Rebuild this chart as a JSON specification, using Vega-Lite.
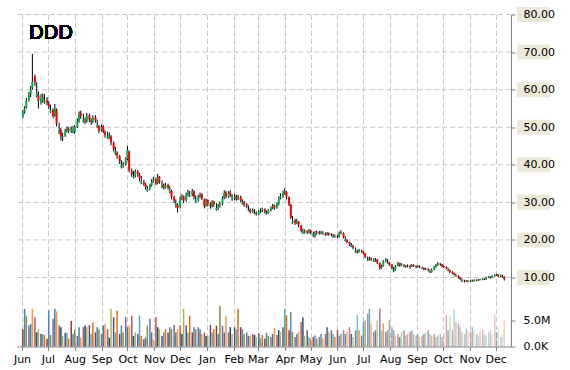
{
"$schema":"https://vega.github.io/schema/vega-lite/v6.json",
"padding":{"left":13,"top":6.5,"right":5,"bottom":5},
"background":"white",
"spacing":0,
"config":{"view":{"stroke":null},"font":"DejaVu Sans",
"axis":{"gridColor":"#c8c8c8","gridDash":[5,3],"gridWidth":1,"domainColor":"#808080","tickColor":"#808080","labelFont":"DejaVu Sans","labelFontSize":11,"labelColor":"#000000","tickSize":4,"title":null}},
"data":{"values":[
{"d":"2014-06-02","o":53.0,"h":54.6,"l":52.4,"c":54,"v":3.3},
{"d":"2014-06-04","o":54.2,"h":55.6,"l":53.6,"c":55,"v":7.2},
{"d":"2014-06-06","o":55.3,"h":57.8,"l":55.0,"c":57,"v":5.8},
{"d":"2014-06-09","o":57.3,"h":59.4,"l":56.8,"c":58.5,"v":4.0},
{"d":"2014-06-11","o":58.8,"h":61.0,"l":58.0,"c":60,"v":4.3},
{"d":"2014-06-13","o":60.5,"h":69.5,"l":60.0,"c":62,"v":7.2},
{"d":"2014-06-16","o":63.5,"h":64.0,"l":61.0,"c":62,"v":5.6},
{"d":"2014-06-18","o":58.3,"h":62.0,"l":58.0,"c":59,"v":2.7},
{"d":"2014-06-20","o":58.5,"h":59.5,"l":55.0,"c":57,"v":3.3},
{"d":"2014-06-23","o":56.8,"h":58.8,"l":56.0,"c":57.5,"v":2.4},
{"d":"2014-06-25","o":57.2,"h":59.0,"l":56.5,"c":58,"v":2.4},
{"d":"2014-06-27","o":56.5,"h":58.8,"l":56.2,"c":57,"v":2.2},
{"d":"2014-06-30","o":57.2,"h":58.0,"l":55.8,"c":56.5,"v":1.5},
{"d":"2014-07-02","o":56.3,"h":57.0,"l":54.8,"c":55.5,"v":6.9},
{"d":"2014-07-04","o":54.0,"h":56.0,"l":53.8,"c":54.5,"v":2.2},
{"d":"2014-07-07","o":54.6,"h":55.0,"l":52.4,"c":53,"v":5.3},
{"d":"2014-07-09","o":53.2,"h":56.2,"l":52.8,"c":55,"v":7.2},
{"d":"2014-07-11","o":54.6,"h":55.0,"l":50.2,"c":51,"v":6.7},
{"d":"2014-07-14","o":48.5,"h":51.2,"l":48.2,"c":49,"v":4.0},
{"d":"2014-07-16","o":49.2,"h":49.8,"l":46.5,"c":47.5,"v":3.7},
{"d":"2014-07-18","o":47.2,"h":48.5,"l":46.3,"c":47.5,"v":2.0},
{"d":"2014-07-21","o":47.8,"h":49.6,"l":47.4,"c":49,"v":2.6},
{"d":"2014-07-23","o":49.2,"h":50.2,"l":48.6,"c":49.5,"v":2.7},
{"d":"2014-07-25","o":49.6,"h":50.0,"l":48.4,"c":49.2,"v":1.5},
{"d":"2014-07-28","o":49.0,"h":50.2,"l":48.5,"c":49.5,"v":4.9},
{"d":"2014-07-30","o":48.6,"h":50.3,"l":48.4,"c":49,"v":2.4},
{"d":"2014-08-01","o":48.8,"h":50.6,"l":48.2,"c":50,"v":3.3},
{"d":"2014-08-04","o":50.2,"h":52.4,"l":49.8,"c":51.5,"v":2.0},
{"d":"2014-08-06","o":51.6,"h":54.2,"l":51.2,"c":53.5,"v":3.7},
{"d":"2014-08-08","o":53.8,"h":54.4,"l":52.2,"c":53,"v":1.7},
{"d":"2014-08-11","o":51.5,"h":53.6,"l":51.2,"c":52,"v":3.7},
{"d":"2014-08-13","o":51.8,"h":52.6,"l":50.8,"c":51.5,"v":4.0},
{"d":"2014-08-15","o":51.6,"h":53.8,"l":51.2,"c":53,"v":3.7},
{"d":"2014-08-18","o":53.2,"h":53.6,"l":51.4,"c":52,"v":4.1},
{"d":"2014-08-20","o":51.8,"h":52.4,"l":50.6,"c":51.5,"v":2.4},
{"d":"2014-08-22","o":51.4,"h":53.2,"l":51.0,"c":52.5,"v":4.6},
{"d":"2014-08-25","o":52.7,"h":53.2,"l":51.2,"c":51.8,"v":2.7},
{"d":"2014-08-27","o":50.0,"h":52.0,"l":49.8,"c":50.5,"v":3.7},
{"d":"2014-08-29","o":50.3,"h":50.6,"l":48.4,"c":49,"v":3.3},
{"d":"2014-09-01","o":49.2,"h":50.8,"l":48.8,"c":50,"v":2.4},
{"d":"2014-09-03","o":50.2,"h":50.6,"l":48.4,"c":49,"v":4.0},
{"d":"2014-09-05","o":48.8,"h":49.2,"l":47.2,"c":48,"v":4.3},
{"d":"2014-09-08","o":47.0,"h":48.8,"l":46.8,"c":47.5,"v":3.3},
{"d":"2014-09-10","o":47.3,"h":48.6,"l":46.9,"c":47.8,"v":1.7},
{"d":"2014-09-12","o":47.6,"h":47.9,"l":45.2,"c":46,"v":7.2},
{"d":"2014-09-15","o":45.8,"h":46.2,"l":43.6,"c":44.2,"v":5.6},
{"d":"2014-09-17","o":42.9,"h":44.8,"l":42.6,"c":43.5,"v":2.7},
{"d":"2014-09-19","o":43.2,"h":43.6,"l":41.6,"c":42.5,"v":6.9},
{"d":"2014-09-22","o":42.3,"h":42.6,"l":40.2,"c":41,"v":2.4},
{"d":"2014-09-24","o":39.4,"h":41.2,"l":39.0,"c":40,"v":4.0},
{"d":"2014-09-26","o":39.8,"h":40.8,"l":39.2,"c":40,"v":2.7},
{"d":"2014-09-29","o":40.2,"h":42.0,"l":39.8,"c":41.5,"v":5.6},
{"d":"2014-10-01","o":41.6,"h":45.0,"l":41.2,"c":44,"v":3.7},
{"d":"2014-10-03","o":43.5,"h":43.8,"l":38.0,"c":38.5,"v":4.0},
{"d":"2014-10-06","o":38.2,"h":39.0,"l":36.8,"c":37.5,"v":5.9},
{"d":"2014-10-08","o":36.6,"h":38.4,"l":36.4,"c":37,"v":2.0},
{"d":"2014-10-10","o":37.2,"h":38.8,"l":36.6,"c":38,"v":2.7},
{"d":"2014-10-13","o":38.2,"h":38.6,"l":36.8,"c":37.5,"v":2.4},
{"d":"2014-10-15","o":37.3,"h":37.8,"l":35.6,"c":36.5,"v":5.9},
{"d":"2014-10-17","o":35.0,"h":37.0,"l":34.8,"c":35.5,"v":2.0},
{"d":"2014-10-20","o":35.4,"h":36.0,"l":34.4,"c":35,"v":1.4},
{"d":"2014-10-22","o":34.8,"h":35.2,"l":33.4,"c":34,"v":1.7},
{"d":"2014-10-24","o":33.0,"h":34.4,"l":32.8,"c":33.5,"v":4.0},
{"d":"2014-10-27","o":33.6,"h":35.0,"l":33.2,"c":34.5,"v":5.3},
{"d":"2014-10-29","o":34.6,"h":36.2,"l":34.2,"c":35.5,"v":2.7},
{"d":"2014-10-31","o":35.6,"h":36.8,"l":35.2,"c":36,"v":1.4},
{"d":"2014-11-03","o":36.2,"h":36.6,"l":34.6,"c":35,"v":5.6},
{"d":"2014-11-05","o":35.2,"h":37.6,"l":34.8,"c":36.5,"v":3.7},
{"d":"2014-11-07","o":36.8,"h":37.0,"l":35.0,"c":35.5,"v":3.3},
{"d":"2014-11-10","o":34.0,"h":35.8,"l":33.8,"c":34.5,"v":2.0},
{"d":"2014-11-12","o":34.6,"h":35.0,"l":33.4,"c":34,"v":2.7},
{"d":"2014-11-14","o":33.8,"h":35.2,"l":33.6,"c":34.5,"v":3.3},
{"d":"2014-11-17","o":34.6,"h":35.0,"l":33.4,"c":34,"v":2.7},
{"d":"2014-11-19","o":32.6,"h":34.4,"l":32.4,"c":33,"v":3.7},
{"d":"2014-11-21","o":33.0,"h":33.4,"l":30.8,"c":31.5,"v":3.3},
{"d":"2014-11-24","o":31.3,"h":31.8,"l":29.8,"c":30.5,"v":4.1},
{"d":"2014-11-26","o":28.9,"h":30.8,"l":28.6,"c":29.5,"v":2.7},
{"d":"2014-11-28","o":29.3,"h":29.8,"l":27.3,"c":28.5,"v":3.3},
{"d":"2014-12-01","o":28.8,"h":31.6,"l":28.4,"c":31,"v":4.0},
{"d":"2014-12-03","o":31.2,"h":32.2,"l":30.6,"c":31.5,"v":2.4},
{"d":"2014-12-05","o":31.6,"h":31.8,"l":29.8,"c":30.5,"v":7.2},
{"d":"2014-12-08","o":30.6,"h":32.6,"l":30.2,"c":32,"v":4.0},
{"d":"2014-12-10","o":32.2,"h":33.4,"l":31.6,"c":32.5,"v":2.7},
{"d":"2014-12-12","o":31.6,"h":33.0,"l":31.4,"c":32,"v":5.9},
{"d":"2014-12-15","o":32.2,"h":33.6,"l":31.6,"c":33,"v":2.7},
{"d":"2014-12-17","o":33.0,"h":33.2,"l":30.8,"c":31.5,"v":3.7},
{"d":"2014-12-19","o":30.0,"h":31.8,"l":29.8,"c":30.5,"v":3.3},
{"d":"2014-12-22","o":30.6,"h":32.0,"l":30.2,"c":31.5,"v":3.7},
{"d":"2014-12-24","o":31.6,"h":32.6,"l":31.2,"c":32,"v":3.3},
{"d":"2014-12-26","o":32.2,"h":32.4,"l":30.6,"c":31,"v":2.4},
{"d":"2014-12-29","o":30.8,"h":31.0,"l":28.4,"c":29,"v":2.7},
{"d":"2014-12-31","o":29.2,"h":31.0,"l":28.8,"c":30.5,"v":2.0},
{"d":"2015-01-02","o":30.6,"h":30.8,"l":29.0,"c":29.5,"v":2.0},
{"d":"2015-01-05","o":29.4,"h":30.0,"l":28.3,"c":29,"v":4.1},
{"d":"2015-01-07","o":29.0,"h":30.6,"l":28.6,"c":30,"v":2.7},
{"d":"2015-01-09","o":30.2,"h":30.4,"l":28.8,"c":29.5,"v":3.3},
{"d":"2015-01-12","o":28.0,"h":29.8,"l":27.8,"c":28.5,"v":4.0},
{"d":"2015-01-14","o":28.6,"h":29.6,"l":28.0,"c":29,"v":2.4},
{"d":"2015-01-16","o":29.2,"h":30.2,"l":28.6,"c":29.5,"v":7.8},
{"d":"2015-01-19","o":29.6,"h":31.6,"l":29.2,"c":31,"v":4.0},
{"d":"2015-01-21","o":31.2,"h":33.2,"l":30.8,"c":32.5,"v":2.7},
{"d":"2015-01-23","o":32.6,"h":33.0,"l":31.0,"c":31.5,"v":5.9},
{"d":"2015-01-26","o":31.6,"h":33.0,"l":31.2,"c":32.5,"v":2.7},
{"d":"2015-01-28","o":32.6,"h":33.2,"l":31.4,"c":32,"v":3.7},
{"d":"2015-01-30","o":30.6,"h":32.2,"l":30.4,"c":31,"v":2.4},
{"d":"2015-02-02","o":31.2,"h":32.2,"l":30.6,"c":31.5,"v":3.7},
{"d":"2015-02-04","o":31.6,"h":32.0,"l":30.4,"c":31,"v":3.3},
{"d":"2015-02-06","o":31.0,"h":32.0,"l":30.6,"c":31.5,"v":7.2},
{"d":"2015-02-09","o":31.4,"h":31.8,"l":30.0,"c":30.5,"v":3.7},
{"d":"2015-02-11","o":29.6,"h":30.8,"l":29.4,"c":30,"v":3.3},
{"d":"2015-02-13","o":30.0,"h":30.4,"l":28.8,"c":29.5,"v":2.4},
{"d":"2015-02-16","o":29.4,"h":29.8,"l":28.4,"c":29,"v":2.7},
{"d":"2015-02-18","o":27.7,"h":29.2,"l":27.6,"c":28,"v":2.0},
{"d":"2015-02-20","o":28.0,"h":28.4,"l":27.0,"c":27.5,"v":2.0},
{"d":"2015-02-23","o":27.6,"h":28.4,"l":27.2,"c":27.8,"v":2.4},
{"d":"2015-02-25","o":26.9,"h":28.2,"l":26.8,"c":27.2,"v":2.2},
{"d":"2015-02-27","o":27.2,"h":27.6,"l":26.5,"c":27,"v":1.8},
{"d":"2015-03-02","o":27.0,"h":28.0,"l":26.6,"c":27.5,"v":2.5},
{"d":"2015-03-04","o":27.6,"h":28.4,"l":27.2,"c":27.8,"v":1.6},
{"d":"2015-03-06","o":27.8,"h":28.6,"l":27.4,"c":28,"v":2.2},
{"d":"2015-03-09","o":28.1,"h":28.4,"l":27.0,"c":27.5,"v":1.5},
{"d":"2015-03-11","o":26.9,"h":27.8,"l":26.7,"c":27.2,"v":2.6},
{"d":"2015-03-13","o":27.2,"h":28.2,"l":26.9,"c":27.8,"v":2.0},
{"d":"2015-03-16","o":27.9,"h":28.9,"l":27.6,"c":28.5,"v":1.8},
{"d":"2015-03-18","o":28.6,"h":29.6,"l":28.2,"c":29,"v":2.4},
{"d":"2015-03-20","o":29.2,"h":29.4,"l":28.0,"c":28.5,"v":3.6},
{"d":"2015-03-23","o":28.6,"h":30.0,"l":28.3,"c":29.5,"v":2.2},
{"d":"2015-03-25","o":29.6,"h":31.6,"l":29.2,"c":31,"v":3.1},
{"d":"2015-03-27","o":31.2,"h":32.4,"l":30.8,"c":31.5,"v":2.8},
{"d":"2015-03-30","o":31.6,"h":33.2,"l":31.2,"c":32.5,"v":3.7},
{"d":"2015-04-01","o":32.6,"h":33.8,"l":32.0,"c":33,"v":7.2},
{"d":"2015-04-03","o":32.8,"h":33.0,"l":30.8,"c":31.5,"v":6.0},
{"d":"2015-04-06","o":31.4,"h":31.6,"l":29.0,"c":29.5,"v":3.1},
{"d":"2015-04-08","o":29.4,"h":29.6,"l":25.6,"c":26,"v":6.6},
{"d":"2015-04-10","o":24.4,"h":26.4,"l":24.2,"c":25,"v":2.8},
{"d":"2015-04-13","o":25.2,"h":25.6,"l":24.0,"c":24.5,"v":1.8},
{"d":"2015-04-15","o":24.6,"h":25.6,"l":24.2,"c":25,"v":2.4},
{"d":"2015-04-17","o":24.8,"h":25.0,"l":23.4,"c":24,"v":2.8},
{"d":"2015-04-20","o":23.8,"h":24.0,"l":22.0,"c":22.5,"v":4.7},
{"d":"2015-04-22","o":21.7,"h":23.0,"l":21.6,"c":22,"v":5.6},
{"d":"2015-04-24","o":22.0,"h":22.8,"l":21.7,"c":22.3,"v":2.1},
{"d":"2015-04-27","o":22.4,"h":22.6,"l":21.6,"c":22,"v":3.1},
{"d":"2015-04-29","o":22.0,"h":22.9,"l":21.7,"c":22.5,"v":1.8},
{"d":"2015-05-01","o":22.6,"h":22.8,"l":21.5,"c":22,"v":1.5},
{"d":"2015-05-04","o":21.0,"h":22.2,"l":20.8,"c":21.5,"v":1.8},
{"d":"2015-05-06","o":21.4,"h":22.4,"l":20.6,"c":21.8,"v":2.1},
{"d":"2015-05-08","o":21.8,"h":22.5,"l":21.4,"c":22,"v":1.5},
{"d":"2015-05-11","o":22.1,"h":22.4,"l":21.4,"c":21.8,"v":1.8},
{"d":"2015-05-13","o":21.8,"h":22.4,"l":21.5,"c":22,"v":2.4},
{"d":"2015-05-15","o":21.5,"h":22.3,"l":21.4,"c":21.8,"v":1.6},
{"d":"2015-05-18","o":21.7,"h":22.0,"l":21.1,"c":21.5,"v":2.4},
{"d":"2015-05-20","o":21.5,"h":22.1,"l":21.2,"c":21.7,"v":3.7},
{"d":"2015-05-22","o":21.8,"h":22.0,"l":21.1,"c":21.5,"v":2.8},
{"d":"2015-05-25","o":21.5,"h":21.8,"l":20.9,"c":21.3,"v":3.1},
{"d":"2015-05-27","o":20.7,"h":21.6,"l":20.6,"c":21,"v":2.4},
{"d":"2015-05-29","o":21.0,"h":21.4,"l":20.6,"c":21,"v":1.8},
{"d":"2015-06-01","o":21.0,"h":21.4,"l":20.4,"c":20.8,"v":3.2},
{"d":"2015-06-03","o":20.9,"h":22.2,"l":20.6,"c":21.8,"v":2.1},
{"d":"2015-06-05","o":21.9,"h":22.6,"l":21.5,"c":22,"v":2.4},
{"d":"2015-06-08","o":21.8,"h":22.0,"l":20.4,"c":20.8,"v":3.1},
{"d":"2015-06-10","o":19.7,"h":21.0,"l":19.6,"c":20,"v":2.4},
{"d":"2015-06-12","o":20.0,"h":20.2,"l":19.1,"c":19.5,"v":2.8},
{"d":"2015-06-15","o":19.4,"h":19.6,"l":18.4,"c":18.8,"v":3.7},
{"d":"2015-06-17","o":18.2,"h":19.2,"l":18.1,"c":18.5,"v":2.4},
{"d":"2015-06-19","o":18.4,"h":18.7,"l":17.5,"c":18,"v":1.8},
{"d":"2015-06-22","o":16.6,"h":18.0,"l":16.5,"c":17,"v":3.1},
{"d":"2015-06-24","o":17.0,"h":17.4,"l":16.4,"c":16.8,"v":6.0},
{"d":"2015-06-26","o":16.8,"h":17.6,"l":16.6,"c":17.2,"v":3.1},
{"d":"2015-06-29","o":17.1,"h":17.4,"l":16.6,"c":17,"v":2.1},
{"d":"2015-07-01","o":16.9,"h":17.1,"l":16.1,"c":16.5,"v":4.7},
{"d":"2015-07-03","o":16.4,"h":16.5,"l":15.1,"c":15.5,"v":5.0},
{"d":"2015-07-06","o":14.5,"h":15.6,"l":14.4,"c":14.8,"v":6.3},
{"d":"2015-07-08","o":14.8,"h":15.5,"l":14.5,"c":15,"v":7.2},
{"d":"2015-07-10","o":15.1,"h":15.3,"l":14.4,"c":14.8,"v":4.4},
{"d":"2015-07-13","o":14.2,"h":15.1,"l":14.1,"c":14.5,"v":2.8},
{"d":"2015-07-15","o":14.5,"h":15.2,"l":14.2,"c":14.8,"v":3.1},
{"d":"2015-07-17","o":14.8,"h":14.9,"l":13.6,"c":14,"v":5.0},
{"d":"2015-07-20","o":13.9,"h":14.0,"l":12.1,"c":12.5,"v":7.2},
{"d":"2015-07-22","o":12.6,"h":13.4,"l":12.3,"c":13,"v":3.1},
{"d":"2015-07-24","o":13.1,"h":14.6,"l":12.9,"c":14.2,"v":4.4},
{"d":"2015-07-27","o":14.3,"h":15.2,"l":14.0,"c":14.8,"v":2.8},
{"d":"2015-07-29","o":13.8,"h":14.9,"l":13.7,"c":14,"v":3.1},
{"d":"2015-07-31","o":14.0,"h":14.2,"l":13.1,"c":13.5,"v":5.0},
{"d":"2015-08-03","o":13.4,"h":13.6,"l":12.1,"c":12.5,"v":3.7},
{"d":"2015-08-05","o":11.6,"h":12.8,"l":11.4,"c":12,"v":3.1},
{"d":"2015-08-07","o":12.1,"h":13.3,"l":11.8,"c":13,"v":2.1},
{"d":"2015-08-10","o":13.1,"h":14.2,"l":12.9,"c":13.8,"v":2.4},
{"d":"2015-08-12","o":13.8,"h":13.9,"l":12.9,"c":13.2,"v":1.8},
{"d":"2015-08-14","o":13.2,"h":13.8,"l":13.0,"c":13.5,"v":2.8},
{"d":"2015-08-17","o":12.8,"h":13.6,"l":12.7,"c":13,"v":3.1},
{"d":"2015-08-19","o":13.1,"h":13.3,"l":12.6,"c":12.9,"v":2.1},
{"d":"2015-08-21","o":13.0,"h":13.5,"l":12.7,"c":13.2,"v":2.4},
{"d":"2015-08-24","o":13.1,"h":13.4,"l":12.3,"c":12.9,"v":2.8},
{"d":"2015-08-26","o":13.0,"h":13.6,"l":12.8,"c":13.3,"v":3.1},
{"d":"2015-08-28","o":13.3,"h":13.5,"l":12.8,"c":13,"v":2.4},
{"d":"2015-08-31","o":13.0,"h":13.2,"l":12.5,"c":12.8,"v":2.1},
{"d":"2015-09-02","o":12.8,"h":13.3,"l":12.6,"c":13,"v":2.4},
{"d":"2015-09-04","o":13.0,"h":13.2,"l":12.5,"c":12.8,"v":1.8},
{"d":"2015-09-07","o":12.3,"h":12.9,"l":12.2,"c":12.5,"v":2.1},
{"d":"2015-09-09","o":12.5,"h":12.7,"l":11.9,"c":12.2,"v":2.4},
{"d":"2015-09-11","o":12.2,"h":12.6,"l":12.0,"c":12.3,"v":2.8},
{"d":"2015-09-14","o":12.3,"h":12.4,"l":11.6,"c":12,"v":3.1},
{"d":"2015-09-16","o":11.3,"h":12.1,"l":11.2,"c":11.5,"v":2.4},
{"d":"2015-09-18","o":11.5,"h":12.4,"l":11.3,"c":12,"v":2.1},
{"d":"2015-09-21","o":12.1,"h":13.1,"l":11.9,"c":12.8,"v":2.4},
{"d":"2015-09-23","o":12.8,"h":13.6,"l":12.6,"c":13.2,"v":1.8},
{"d":"2015-09-25","o":13.3,"h":14.1,"l":13.1,"c":13.8,"v":2.1},
{"d":"2015-09-28","o":13.7,"h":13.9,"l":13.1,"c":13.5,"v":2.4},
{"d":"2015-09-30","o":13.5,"h":13.6,"l":12.7,"c":13,"v":1.8},
{"d":"2015-10-02","o":13.0,"h":13.2,"l":12.5,"c":12.8,"v":2.2},
{"d":"2015-10-05","o":12.8,"h":13.0,"l":12.2,"c":12.5,"v":6.0},
{"d":"2015-10-07","o":11.8,"h":12.6,"l":11.7,"c":12,"v":3.1},
{"d":"2015-10-09","o":12.0,"h":12.1,"l":11.2,"c":11.5,"v":6.0},
{"d":"2015-10-12","o":11.5,"h":11.7,"l":10.9,"c":11.2,"v":3.1},
{"d":"2015-10-14","o":11.2,"h":11.3,"l":10.5,"c":10.8,"v":7.2},
{"d":"2015-10-16","o":10.3,"h":11.0,"l":10.2,"c":10.5,"v":4.7},
{"d":"2015-10-19","o":10.5,"h":10.6,"l":9.7,"c":10,"v":4.4},
{"d":"2015-10-21","o":10.0,"h":10.1,"l":9.3,"c":9.6,"v":3.7},
{"d":"2015-10-23","o":8.9,"h":9.7,"l":8.8,"c":9.2,"v":2.8},
{"d":"2015-10-26","o":9.2,"h":9.4,"l":8.7,"c":9,"v":2.4},
{"d":"2015-10-28","o":9.0,"h":9.3,"l":8.8,"c":9.1,"v":3.4},
{"d":"2015-10-30","o":9.1,"h":9.3,"l":8.7,"c":9,"v":3.1},
{"d":"2015-11-02","o":9.0,"h":9.4,"l":8.8,"c":9.2,"v":2.8},
{"d":"2015-11-04","o":8.95,"h":9.4,"l":8.9,"c":9.1,"v":3.7},
{"d":"2015-11-06","o":9.1,"h":9.5,"l":8.9,"c":9.3,"v":3.1},
{"d":"2015-11-09","o":9.4,"h":9.5,"l":9.0,"c":9.2,"v":2.4},
{"d":"2015-11-11","o":9.2,"h":9.6,"l":9.1,"c":9.4,"v":2.1},
{"d":"2015-11-13","o":9.4,"h":9.7,"l":9.2,"c":9.5,"v":2.8},
{"d":"2015-11-16","o":9.5,"h":9.8,"l":9.3,"c":9.6,"v":3.1},
{"d":"2015-11-18","o":9.6,"h":9.8,"l":9.3,"c":9.5,"v":2.4},
{"d":"2015-11-20","o":9.5,"h":10.2,"l":9.4,"c":10,"v":2.1},
{"d":"2015-11-23","o":10.0,"h":10.4,"l":9.8,"c":10.2,"v":2.8},
{"d":"2015-11-25","o":10.2,"h":10.3,"l":9.7,"c":9.9,"v":3.1},
{"d":"2015-11-27","o":9.9,"h":10.6,"l":9.8,"c":10.4,"v":2.4},
{"d":"2015-11-30","o":10.4,"h":10.9,"l":10.2,"c":10.6,"v":6.0},
{"d":"2015-12-02","o":10.6,"h":11.0,"l":10.4,"c":10.8,"v":2.8},
{"d":"2015-12-04","o":10.8,"h":10.9,"l":10.1,"c":10.3,"v":3.7},
{"d":"2015-12-07","o":10.3,"h":10.8,"l":10.1,"c":10.6,"v":1.8},
{"d":"2015-12-09","o":10.05,"h":10.7,"l":10.0,"c":10.2,"v":2.4},
{"d":"2015-12-11","o":10.2,"h":10.3,"l":9.2,"c":9.6,"v":5.0}
]},
"vconcat":[
{"width":494,"height":286,
"layer":[
{"data":{"values":[{"p":10},{"p":20},{"p":30},{"p":40},{"p":50},{"p":60},{"p":70},{"p":80}]},
"mark":{"type":"rule","color":"#c8c8c8","strokeDash":[5,3],"strokeWidth":1},
"encoding":{"y":{"field":"p","type":"quantitative","scale":{"domain":[3.88,80],"nice":false,"zero":false}}}},
{"data":{"values":[{"p":10},{"p":20},{"p":30},{"p":40},{"p":50},{"p":60},{"p":70},{"p":80}]},
"mark":{"type":"point","shape":"M-2.2,-1H2.2V1H-2.2Z","size":225,"filled":true,"opacity":1,"color":"#ece9d8","strokeWidth":0,"clip":false},
"encoding":{
"x":{"datum":{"year":2016,"month":1,"date":14},"type":"temporal"},
"y":{"field":"p","type":"quantitative"}}},
{"mark":{"type":"rule","color":"#000000","strokeWidth":1},
"encoding":{
"x":{"field":"d","type":"temporal","scale":{"domain":[{"year":2014,"month":6,"date":1},{"year":2015,"month":12,"date":13}]},
"axis":{"grid":true,"labels":false,"ticks":false,"domain":false,"tickCount":{"interval":"month","step":1},"minExtent":0,"maxExtent":0}},
"y":{"field":"l","type":"quantitative","scale":{"domain":[3.88,80],"nice":false,"zero":false},
"axis":{"orient":"right","values":[10,20,30,40,50,60,70,80],"format":".2f","grid":false,"labelPadding":8,"zindex":1}},
"y2":{"field":"h"}}},
{"mark":{"type":"bar","size":2},
"encoding":{
"x":{"field":"d","type":"temporal"},
"y":{"field":"o","type":"quantitative","scale":{"domain":[3.88,80],"nice":false,"zero":false}},
"y2":{"field":"c"},
"color":{"condition":{"test":"datum.c >= datum.o","value":"#00b050"},"value":"#ff0000"}}},
{"mark":{"type":"text","align":"left","baseline":"alphabetic","fontSize":19,"font":"DejaVu Sans","color":"#000000"},
"encoding":{
"x":{"datum":{"year":2014,"month":6,"date":9},"type":"temporal"},
"y":{"datum":73.6,"type":"quantitative"},
"text":{"value":"DDD"}}}
]},
{"width":494,"height":46,
"mark":{"type":"bar","size":1.5},
"encoding":{
"x":{"field":"d","type":"temporal","scale":{"domain":[{"year":2014,"month":6,"date":1},{"year":2015,"month":12,"date":13}]},
"axis":{"grid":true,"format":"%b","tickCount":{"interval":"month","step":1},"labelOverlap":false,"labelFlush":false,"labelPadding":3}},
"y":{"field":"v","type":"quantitative","scale":{"domain":[0,8.8],"nice":false},
"axis":{"orient":"right","values":[0,5],"grid":false,"labelPadding":8,"labelExpr":"datum.value == 0 ? '0.0K' : format(datum.value, '.1f') + 'M'"}},
"color":{"field":"d","type":"nominal","legend":null,"scale":{"range":["#953735","#4F81BD","#77933C","#8064A2","#31859C","#F79646","#C0504D","#1F497D","#9BBB59","#604A7B","#4BACC6","#E46C0A"]}},
"opacity":{"field":"d","type":"temporal","legend":null,"scale":{"domain":[{"year":2015,"month":4,"date":1},{"year":2015,"month":12,"date":11}],"range":[1,0.3],"clamp":true}}}}
]
}
